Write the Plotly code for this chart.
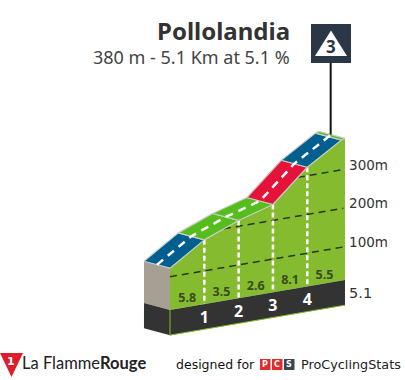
import numpy as np
import plotly.graph_objects as go

# ---- data ----
km = [0, 1, 2, 3, 4, 5, 5.1]
elevation = [122, 180, 215, 241, 322, 377, 380]
gradient_labels = ["5.8", "3.5", "2.6", "8.1", "5.5"]
km_labels = ["1", "2", "3", "4"]
grid_levels = [100, 200, 300]
grid_labels = ["300m", "200m", "100m"]
total_km_label = "5.1"
road_colors = ["#005F8F", "#55BE1C", "#55BE1C", "#E5133A", "#005F8F", "#55BE1C"]
title = "Pollolandia"
subtitle = "380 m - 5.1 Km at 5.1 %"

# ---- projection of (km, metres, depth) on the plot plane ----
SHEAR = 15.2      # metres of rise on the sheet per km
DEPTH_X = -0.758  # km per unit of depth
DEPTH_Y = 18.0    # metres per unit of depth
BASE_TOP = 14
BASE_BOTTOM = -51
PX_KM = 34.31
PX_M = 0.387


def proj(k, e, d=0.0):
    k = np.asarray(k, float)
    e = np.asarray(e, float)
    return (k + d * DEPTH_X).tolist(), (e + k * SHEAR + d * DEPTH_Y).tolist()


fig = go.Figure()


def poly(xs, ys, fill, line="rgba(0,0,0,0)", lw=0):
    fig.add_trace(go.Scatter(x=xs, y=ys, mode="lines", fill="toself", fillcolor=fill,
                             line=dict(color=line, width=lw), hoverinfo="skip", showlegend=False))


def path(xs, ys, color, w, dash="solid"):
    fig.add_trace(go.Scatter(x=xs, y=ys, mode="lines", line=dict(color=color, width=w, dash=dash),
                             hoverinfo="skip", showlegend=False))


def text(x, y, s, color, size, family, bold=False, pos="middle center"):
    fig.add_trace(go.Scatter(x=[x], y=[y], mode="text", text=[f"<b>{s}</b>" if bold else s],
                             textposition=pos, textfont=dict(color=color, size=size, family=family),
                             hoverinfo="skip", showlegend=False))


km_arr = np.array(km, float)
ele_arr = np.array(elevation, float)
end = km_arr[-1]
start = km_arr[0]

# left side face
x1, y1 = proj([start, start], [BASE_TOP, ele_arr[0]], 1)
x2, y2 = proj([start, start], [ele_arr[0], BASE_TOP], 0)
poly(x1 + x2, y1 + y2, "#A89F94")
x1, y1 = proj([start, start], [BASE_BOTTOM, BASE_TOP], 1)
x2, y2 = proj([start, start], [BASE_TOP, BASE_BOTTOM], 0)
poly(x1 + x2, y1 + y2, "#333333")

# front face, green
fx, fy = proj(km_arr, ele_arr)
bx, by = proj([end, start], [BASE_TOP, BASE_TOP])
poly(fx + bx, fy + by, "#85BC2F")

# dark base band
tx, ty = proj([start, end], [BASE_TOP, BASE_TOP])
ux, uy = proj([end, start], [BASE_BOTTOM, BASE_BOTTOM])
poly(tx + ux, ty + uy, "#333333")
path(*proj([start, end], [BASE_BOTTOM, BASE_BOTTOM]), "#85BC2F", 1)
path(*proj([start, start], [BASE_TOP, BASE_BOTTOM]), "#85BC2F", 1)

# elevation grid, from where the level meets the profile to the far end
for lev in grid_levels:
    k0 = max(float(np.interp(lev, ele_arr, km_arr)), start)
    if lev <= ele_arr[0]:
        k0 = start
    path(*proj([k0, end - 0.05], [lev, lev]), "#2a3518", 1.5, "7px,5px")

# vertical km markers
for k in km_arr[1:5]:
    e = float(np.interp(k, km_arr, ele_arr))
    path(*proj([k, k], [e, BASE_TOP]), "#FFFFFF", 2.5, "5px,3px")

# road segments
for i, c in enumerate(road_colors):
    ks = km_arr[i:i + 2]
    es = ele_arr[i:i + 2]
    xa, ya = proj(ks, es, 0)
    xb, yb = proj(ks[::-1], es[::-1], 1)
    poly(xa + xb + xa[:1], ya + yb + ya[:1], c, "#C8CCC4", 1.2)

# road centre line
path(*proj(km_arr, ele_arr, 0.5), "#FFFFFF", 2.5, "8px,6px")

# gradient labels
for i, g in enumerate(gradient_labels):
    mid = (km_arr[i] + km_arr[i + 1]) / 2
    lx, ly = proj([mid], [BASE_TOP + 21])
    text(lx[0], ly[0], g, "#3B4A22", 12.5, "Noto Sans", True)

# km labels
for k, lab in zip(km_arr[1:5], km_labels):
    lx, ly = proj([k], [(BASE_TOP + BASE_BOTTOM) / 2 - 6])
    text(lx[0], ly[0], lab, "#FFFFFF", 16, "Noto Sans", True)

# grid labels at right
for lev, lab in zip(grid_levels[::-1], grid_labels):
    lx, ly = proj([end], [lev])
    fig.add_trace(go.Scatter(x=[lx[0] + 0.12], y=[ly[0] + 8], mode="text", text=[lab],
                             textposition="middle right",
                             textfont=dict(color="#333333", size=13.5, family="DejaVu Sans"),
                             hoverinfo="skip", showlegend=False))
lx, ly = proj([end], [BASE_TOP])
fig.add_trace(go.Scatter(x=[lx[0] + 0.12], y=[ly[0] - 36], mode="text", text=[total_km_label],
                         textposition="middle right",
                         textfont=dict(color="#333333", size=14.5, family="DejaVu Sans"),
                         hoverinfo="skip", showlegend=False))

# flag pole
topx, topy = proj([end], [ele_arr[-1]], 0.55)
POLE_TOP_PX = 63
fig.add_shape(type="line", xref="x", yref="paper", x0=topx[0], x1=topx[0], y0=1 - POLE_TOP_PX / 380,
              y1=1 - (315.4 - topy[0] * PX_M) / 380, line=dict(color="#111111", width=2))


def P(x, y):
    return x / 405, 1 - y / 380


def rect(x0, y0, x1, y1, color):
    a, b = P(x0, y0)
    c, d = P(x1, y1)
    fig.add_shape(type="rect", xref="paper", yref="paper", x0=a, x1=c, y0=b, y1=d,
                  fillcolor=color, line=dict(width=0), layer="above")


def note(x, y, s, size, color, family, anchor="left"):
    a, b = P(x, y)
    fig.add_annotation(x=a, y=b, xref="paper", yref="paper", text=s, showarrow=False, xanchor=anchor,
                       yanchor="middle", font=dict(size=size, color=color, family=family))


def tri(points, color):
    d = "M " + " L ".join(f"{p[0]/405:.5f},{1-p[1]/380:.5f}" for p in points) + " Z"
    fig.add_shape(type="path", xref="paper", yref="paper", path=d, fillcolor=color, line=dict(width=0),
                  layer="above")


# category flag
rect(311, 24, 351, 63, "#2B3647")
tri([(331, 30.5), (347, 56), (315, 56)], "#FFFFFF")
note(331, 46, "<b>3</b>", 17, "#2B3647", "Noto Sans", "center")

# titles
note(292, 30, f"<b>{title}</b>", 24, "#333333", "Noto Sans", "right")
note(292, 57, subtitle, 18, "#444444", "Noto Sans", "right")

# footer
tri([(0, 353), (23, 353), (11.5, 377)], "#DD1C2C")
note(11, 361, "<b>1</b>", 11, "#FFFFFF", "DejaVu Sans", "center")
note(19.5, 363, 'La Flamme<b>Rouge</b>', 16.5, "#222222", "Lato")
note(174, 364, "designed for", 12.5, "#111111", "DejaVu Sans")
for x0, c, s in [(260, "#E22B2B", "P"), (272, "#E22B2B", "C"), (284, "#3B4654", "S")]:
    rect(x0, 359, x0 + 10.5, 370, c)
    note(x0 + 5.2, 364.5, f"<b>{s}</b>", 8, "#FFFFFF", "DejaVu Sans", "center")
note(298.5, 364, "ProCyclingStats", 12.8, "#222222", "DejaVu Sans")

fig.update_layout(
    width=405, height=380, margin=dict(l=0, r=0, t=0, b=0), autosize=False,
    paper_bgcolor="#FFFFFF", plot_bgcolor="#FFFFFF", showlegend=False,
    xaxis=dict(visible=False, range=[-170 / PX_KM, 235 / PX_KM], fixedrange=True),
    yaxis=dict(visible=False, range=[(315.4 - 380) / PX_M, 315.4 / PX_M], fixedrange=True),
)

fig.write_html("out.html", config={"displayModeBar": False},
               post_script="document.body.style.margin='0';document.body.style.overflow='hidden';")
